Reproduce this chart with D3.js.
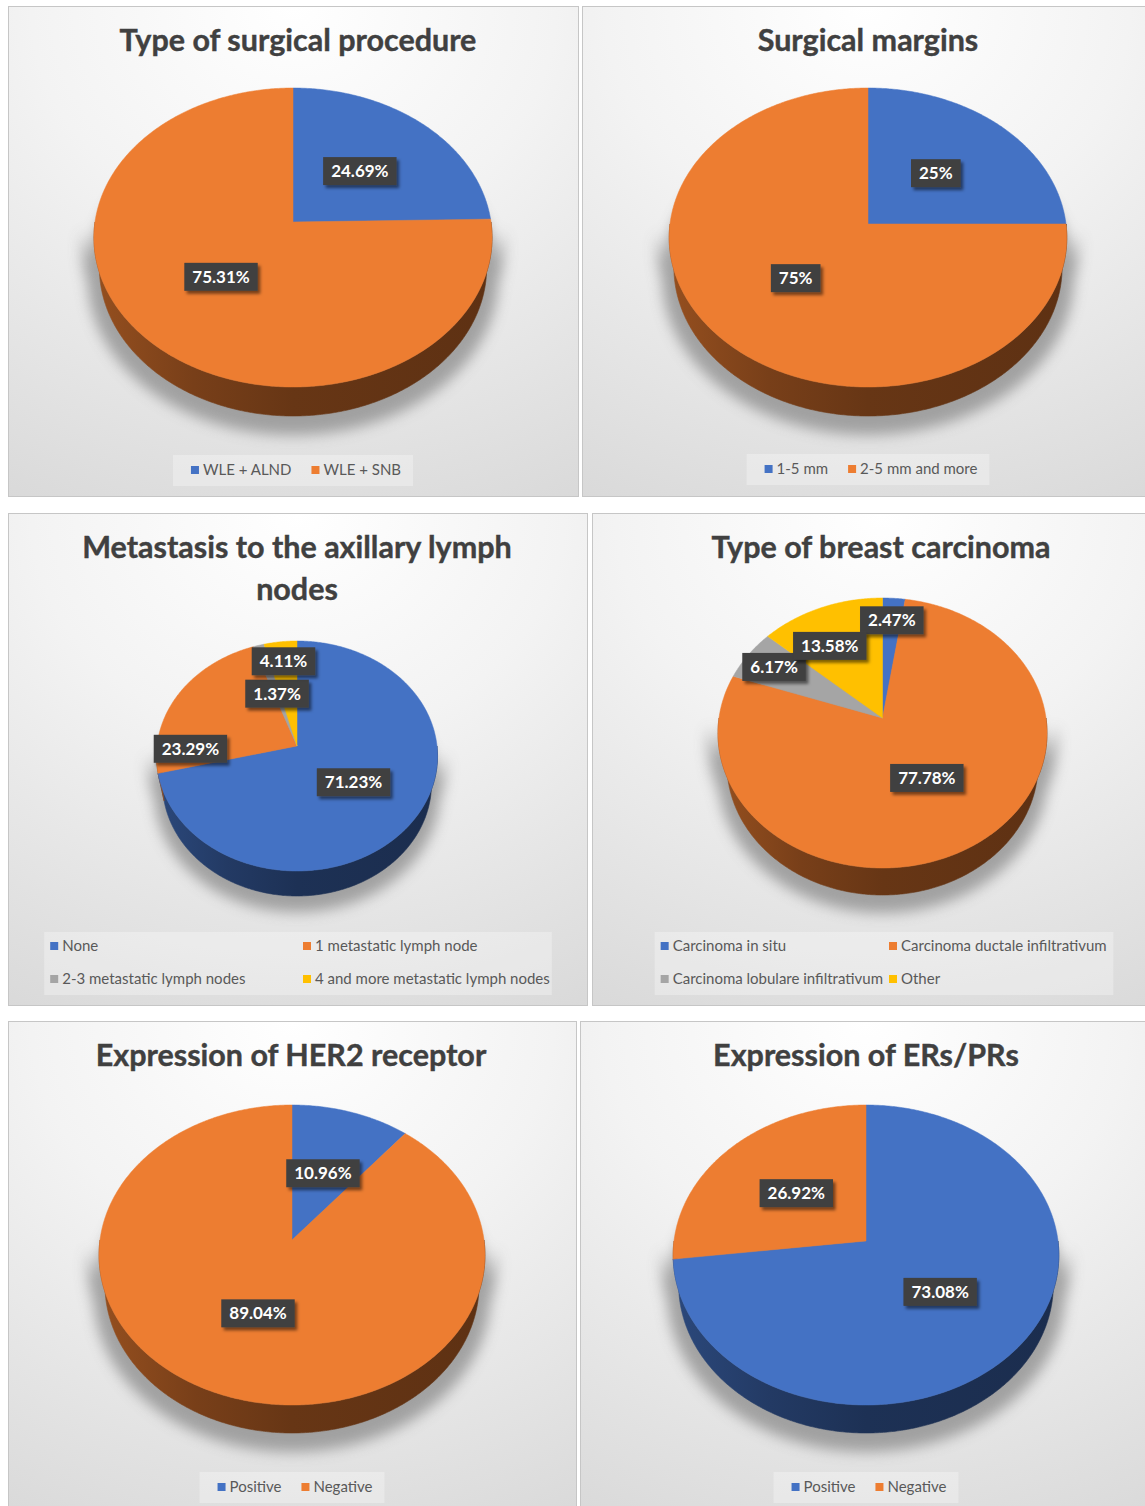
<!DOCTYPE html>
<html><head><meta charset="utf-8">
<script src="https://cdn.jsdelivr.net/npm/d3@7"></script>
<style>body{margin:0;background:#fff;} text{font-family:Lato,'Open Sans',sans-serif;}</style>
</head><body>
<script>
// ---------- DATA ----------
const titles = [
  ["Type of surgical procedure"],
  ["Surgical margins"],
  ["Metastasis to the axillary lymph", "nodes"],
  ["Type of breast carcinoma"],
  ["Expression of HER2 receptor"],
  ["Expression of ERs/PRs"]
];
const categories1 = ["WLE + ALND", "WLE + SNB"];
const values1 = [24.69, 75.31];
const categories2 = ["1-5 mm", "2-5 mm and more"];
const values2 = [25, 75];
const categories3 = ["None", "1 metastatic lymph node", "2-3 metastatic lymph nodes", "4 and more metastatic lymph nodes"];
const values3 = [71.23, 23.29, 1.37, 4.11];
const categories4 = ["Carcinoma in situ", "Carcinoma ductale infiltrativum", "Carcinoma lobulare infiltrativum", "Other"];
const values4 = [2.47, 77.78, 6.17, 13.58];
const categories5 = ["Positive", "Negative"];
const values5 = [10.96, 89.04];
const categories6 = ["Positive", "Negative"];
const values6 = [73.08, 26.92];

const seriesColors = ["#4472C4", "#ED7D31", "#A5A5A5", "#FFC000"];

const charts = [
  {title: titles[0], cats: categories1, vals: values1},
  {title: titles[1], cats: categories2, vals: values2},
  {title: titles[2], cats: categories3, vals: values3},
  {title: titles[3], cats: categories4, vals: values4},
  {title: titles[4], cats: categories5, vals: values5},
  {title: titles[5], cats: categories6, vals: values6}
];

// ---------- LAYOUT (positions / sizes) ----------
const layout = [
  {x:8,   y:6,    w:571, h:491, tx:298, cx:293,   cy:222,  hw:198,   a:134, b:165, depth:29, lx:296, ly:470, cols:1},
  {x:582, y:6,    w:571, h:491, tx:868, cx:868,   cy:224,  hw:198,   a:136, b:163, depth:29, lx:871, ly:469, cols:1},
  {x:8,   y:513,  w:580, h:493, tx:297, cx:297,   cy:746,  hw:140,   a:105, b:125, depth:25, lx:303, ly:946, cols:2},
  {x:592, y:513,  w:580, h:493, tx:881, cx:882.5, cy:718,  hw:163.5, a:120, b:150, depth:27, lx:889, ly:946, cols:2},
  {x:8,   y:1021, w:569, h:495, tx:291, cx:292,   cy:1240, hw:192,   a:135, b:165, depth:28, lx:295, ly:1487, cols:1},
  {x:580, y:1021, w:572, h:495, tx:866, cx:866,   cy:1241, hw:192,   a:136, b:164, depth:28, lx:869, ly:1487, cols:1}
];
// label placement (Excel "best fit" adjustments): r = radial fraction, t = position within slice
const labelPlace = [
  [{}, {}],
  [{}, {}],
  [{}, {r:0.76, t:0.14}, {}, {r:0.8}],
  [{r:0.8}, {}, {r:0.8}, {r:0.67, t:0.37}],
  [{}, {}],
  [{}, {}]
];

const W = 1145, H = 1506;
const svg = d3.select("body").append("svg").attr("width", W).attr("height", H);
const defs = svg.append("defs");

const bg = defs.append("radialGradient").attr("id", "bg")
  .attr("cx", "50%").attr("cy", "0%").attr("r", "115%").attr("fx", "50%").attr("fy", "0%");
bg.append("stop").attr("offset", 0).attr("stop-color", "#ffffff");
bg.append("stop").attr("offset", 0.4).attr("stop-color", "#f3f3f3");
bg.append("stop").attr("offset", 1).attr("stop-color", "#d8d8d8");

const ls = defs.append("filter").attr("id", "lshadow")
  .attr("x", "-30%").attr("y", "-30%").attr("width", "170%").attr("height", "180%");
ls.append("feDropShadow").attr("dx", 2.5).attr("dy", 3).attr("stdDeviation", 1.8)
  .attr("flood-color", "#000").attr("flood-opacity", 0.5);

defs.append("filter").attr("id", "pshadow")
  .attr("x", "-30%").attr("y", "-30%").attr("width", "160%").attr("height", "160%")
  .append("feGaussianBlur").attr("stdDeviation", 7);

function makeProj(L) {
  const k = L.b / L.a;
  const s = Math.min(0.99, 2 * k * L.a / (L.hw * (k + 1)));
  const c = Math.sqrt(1 - s * s);
  const D = c * (k + 1) / (k - 1);
  const f = L.hw * D;
  const B = L.b + L.depth;
  const h = (B * (D - c) - f * s) / (f * c - B * s);
  const proj = (theta, rho, y) => {
    const x = rho * Math.sin(theta), z = -rho * Math.cos(theta);
    const w = z * c + y * s;
    const u = y * c - z * s;
    const dist = D - w;
    return [L.cx + f * x / dist, L.cy - f * u / dist];
  };
  proj.h = h;
  return proj;
}

function arcPts(proj, t0, t1, rho, y) {
  const n = Math.max(2, Math.ceil((t1 - t0) / 0.01));
  const pts = [];
  for (let i = 0; i <= n; i++) pts.push(proj(t0 + (t1 - t0) * i / n, rho, y));
  return pts;
}
const line = d3.line();

charts.forEach((ch, i) => {
  const L = layout[i];
  const g = svg.append("g");
  g.append("rect").attr("x", L.x + 0.5).attr("y", L.y + 0.5)
    .attr("width", L.w - 1).attr("height", L.h - 1)
    .attr("fill", "url(#bg)").attr("stroke", "#c6c6c6");

  // title
  ch.title.forEach((t, j) => {
    g.append("text").attr("x", L.tx).attr("y", L.y + 45 + j * 42)
      .attr("text-anchor", "middle").attr("font-size", 30.5).attr("font-weight", 700)
      .attr("fill", "#404040").attr("stroke", "#404040").attr("stroke-width", 0.4).text(t);
  });

  const proj = makeProj(L);
  const h = proj.h;
  const arcs = d3.pie().sort(null).value(d => d)(ch.vals);

  // shadow
  const sh = g.append("g").attr("filter", "url(#pshadow)").attr("opacity", 0.75)
    .attr("transform", "translate(0,8)");
  sh.append("path").attr("d", line(arcPts(proj, 0, 2 * Math.PI, 1.06, -h)) + "Z").attr("fill", "#8a8a8a");
  sh.append("path").attr("d", line(arcPts(proj, Math.PI / 2, 3 * Math.PI / 2, 1.06, 0).concat(arcPts(proj, Math.PI / 2, 3 * Math.PI / 2, 1.06, -h).reverse())) + "Z").attr("fill", "#8a8a8a");

  // side gradients
  seriesColors.forEach((col, j) => {
    const gr = defs.append("linearGradient").attr("id", `side${i}_${j}`)
      .attr("gradientUnits", "userSpaceOnUse")
      .attr("x1", L.cx - L.hw).attr("x2", L.cx + L.hw).attr("y1", 0).attr("y2", 0);
    [[0, 1.3], [0.25, 1.9], [0.5, 2.35], [1, 2.6]].forEach(([o, d]) =>
      gr.append("stop").attr("offset", o).attr("stop-color", d3.color(col).darker(d)));
  });

  // sides (visible near half)
  const lo = Math.PI / 2, hi = 3 * Math.PI / 2;
  arcs.forEach((a, j) => {
    const t0 = Math.max(a.startAngle, lo), t1 = Math.min(a.endAngle, hi);
    if (t1 <= t0) return;
    const top = arcPts(proj, t0, t1, 1, 0);
    const bot = arcPts(proj, t0, t1, 1, -h).reverse();
    g.append("path").attr("d", line(top.concat(bot)) + "Z")
      .attr("fill", `url(#side${i}_${j})`).attr("stroke", `url(#side${i}_${j})`).attr("stroke-width", 0.6);
  });

  // top faces
  arcs.forEach((a, j) => {
    const pts = [proj(0, 0, 0)].concat(arcPts(proj, a.startAngle, a.endAngle, 1, 0));
    g.append("path").attr("d", line(pts) + "Z")
      .attr("fill", seriesColors[j]).attr("stroke", seriesColors[j]).attr("stroke-width", 0.5)
      .attr("stroke-linejoin", "round");
  });

  // labels
  arcs.forEach((a, j) => {
    const pl = labelPlace[i][j] || {};
    const r = pl.r ?? 0.5, t = pl.t ?? 0.5;
    const p = proj(a.startAngle + t * (a.endAngle - a.startAngle), r, 0);
    const lg = g.append("g").attr("transform", `translate(${p[0]},${p[1]})`);
    const rect = lg.append("rect").attr("fill", "#404040").attr("filter", "url(#lshadow)");
    const tx = lg.append("text").attr("text-anchor", "middle").attr("dy", "0.36em")
      .attr("font-size", 17).attr("font-weight", 700).attr("fill", "#ffffff")
      .text(`${a.data}%`);
    const tw = tx.node().getComputedTextLength();
    rect.attr("x", -tw / 2 - 8).attr("y", -14).attr("width", tw + 16).attr("height", 28);
  });

  // legend
  const lgd = g.append("g");
  const items = ch.cats.map((c, j) => {
    const it = lgd.append("g");
    it.append("rect").attr("y", -4).attr("width", 8).attr("height", 8).attr("fill", seriesColors[j]);
    const t = it.append("text").attr("x", 12).attr("dy", "0.35em").attr("font-size", 15)
      .attr("fill", "#595959").text(c);
    return {it, w: 12 + t.node().getComputedTextLength()};
  });
  let bx, by, bw, bh;
  if (L.cols === 2) {
    const colW = d3.max(items, d => d.w) + 6;
    const x0 = L.lx - colW;
    items.forEach((d, j) => d.it.attr("transform", `translate(${x0 + (j % 2) * colW},${L.ly + Math.floor(j / 2) * 33})`));
    bx = x0 - 6; by = L.ly - 14; bw = colW * 2 + 2; bh = 63;
  } else {
    const gap = 20;
    const total = d3.sum(items, d => d.w) + gap * (items.length - 1);
    let x = L.lx - total / 2;
    items.forEach(d => { d.it.attr("transform", `translate(${x},${L.ly})`); x += d.w + gap; });
    bx = L.lx - total / 2 - 18; by = L.ly - 15; bw = total + 30; bh = 31;
  }
  lgd.insert("rect", ":first-child").attr("x", bx).attr("y", by).attr("width", bw).attr("height", bh)
    .attr("fill", "#ffffff").attr("opacity", 0.3);
});
</script>
</body></html>
